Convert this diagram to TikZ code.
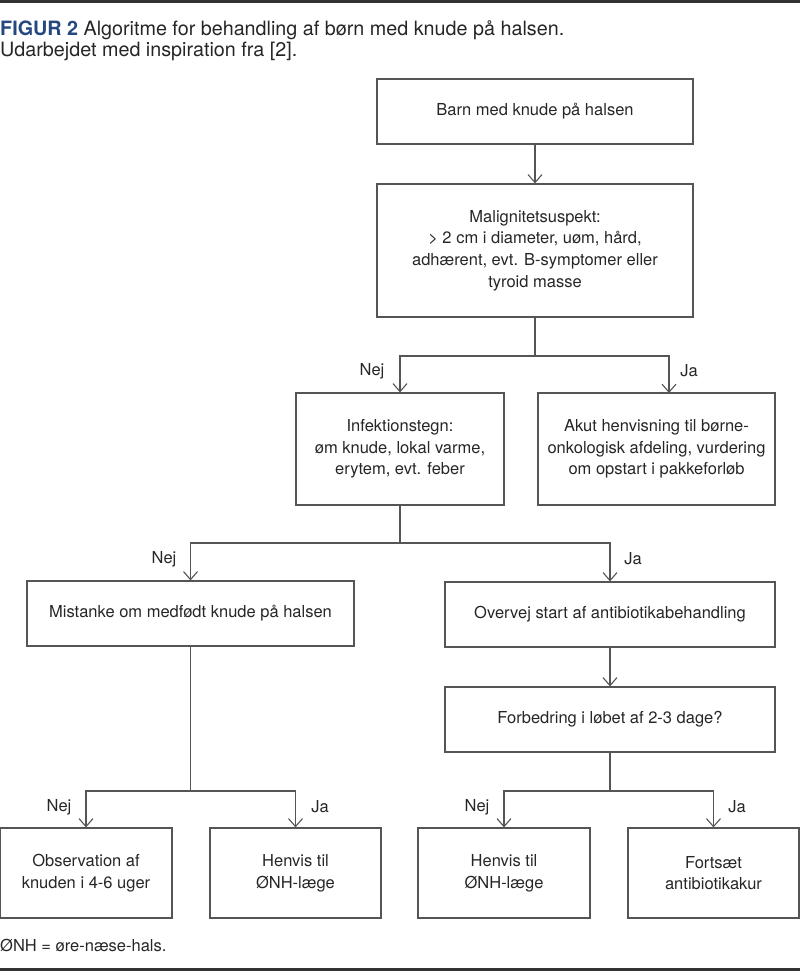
\documentclass[tikz,border=0pt]{standalone}
\usepackage{fontspec}
\setmainfont{TeX Gyre Heros}
\usetikzlibrary{arrows.meta}
\definecolor{figblue}{RGB}{38,72,128}
\definecolor{txt}{RGB}{38,38,38}
\definecolor{ln}{RGB}{85,85,85}
\definecolor{rulec}{RGB}{50,50,50}
\begin{document}
\begin{tikzpicture}[x=1pt,y=-1pt,
  box/.style={draw=ln, line width=1.2pt, rectangle, inner sep=0pt, align=center,
    text=txt, font=\fontsize{16.5}{21.7}\selectfont},
  conn/.style={draw=ln, line width=1.1pt},
  arr/.style={conn, -{Straight Barb[length=8pt,width=14pt,line width=1.1pt]}},
  lbl/.style={text=txt, font=\fontsize{16.5}{20}\selectfont, inner sep=0pt}]
\useasboundingbox (0,0) rectangle (800,971);
% rules
\fill[rulec] (0,0) rectangle (800,3);
\fill[rulec] (0,968) rectangle (800,971);
% caption
\node[anchor=base west, inner sep=0pt, text=txt, font=\fontsize{19.75}{21}\selectfont] (cap1) at (0,36)
  {\textcolor{figblue}{\textbf{FIGUR 2}} Algoritme for behandling af børn med knude på halsen.};
\node[anchor=base west, inner sep=0pt, text=txt, font=\fontsize{19.75}{21}\selectfont] (cap2) at (0,57)
  {Udarbejdet med inspiration fra [2].};
% boxes
\node[box, minimum width=316pt, minimum height=65pt] (b1) at (535,111.5) {Barn med knude på halsen};
\node[box, minimum width=316pt, minimum height=133pt] (b2) at (535,250.5)
  {Malignitetsuspekt:\\ \textgreater{} 2 cm i diameter, uøm, hård,\\ adhærent, evt. B-symptomer eller\\ tyroid masse};
\node[box, minimum width=208pt, minimum height=112pt] (b3) at (400,449)
  {Infektionstegn:\\ øm knude, lokal varme,\\ erytem, evt. feber};
\node[box, minimum width=237pt, minimum height=112pt] (b4) at (656.5,449)
  {Akut henvisning til børne-\\ onkologisk afdeling, vurdering\\ om opstart i pakkeforløb};
\node[box, minimum width=327pt, minimum height=65pt] (b5) at (190.5,613.5) {Mistanke om medfødt knude på halsen};
\node[box, minimum width=330pt, minimum height=65pt] (b6) at (610,614.5) {Overvej start af antibiotikabehandling};
\node[box, minimum width=330pt, minimum height=65pt] (b7) at (610,719.5) {Forbedring i løbet af 2-3 dage?};
\node[box, minimum width=172pt, minimum height=90pt] (b8) at (86,873) {Observation af\\ knuden i 4-6 uger};
\node[box, minimum width=171pt, minimum height=90pt] (b9) at (295.5,873) {Henvis til\\ ØNH-læge};
\node[box, minimum width=172pt, minimum height=90pt] (b10) at (504,873) {Henvis til\\ ØNH-læge};
\node[box, minimum width=171pt, minimum height=90pt] (b11) at (713.5,873) {Fortsæt\\ antibiotikakur};
% footnote
\node[anchor=base west, inner sep=0pt, text=txt, font=\fontsize{16.5}{20}\selectfont] (fn) at (0,951) {ØNH = øre-næse-hals.};
% connectors
\draw[arr] (b1.south) -- (b2.north);
\coordinate (s1) at (535,356);
\coordinate (j1) at (669,393);
\draw[conn] (b2.south) -- (s1);
\draw[arr] (s1) -| (b3.north);
\draw[arr] (s1) -| (j1);
\coordinate (s2) at (400,543);
\draw[conn] (b3.south) -- (s2);
\draw[arr] (s2) -| (b5.north);
\draw[arr] (s2) -| (b6.north);
\draw[arr] (b6.south) -- (b7.north);
\coordinate (s3) at (190.5,791);
\draw[conn] (b5.south) -- (s3);
\draw[arr] (s3) -| (b8.north);
\draw[arr] (s3) -| (b9.north);
\coordinate (s4) at (610,791);
\draw[conn] (b7.south) -- (s4);
\draw[arr] (s4) -| (b10.north);
\draw[arr] (s4) -| (b11.north);
% labels
\node[lbl] (n1) at (372,371) {Nej};
\node[lbl] (y1) at (689,371) {Ja};
\node[lbl] (n2) at (164,559) {Nej};
\node[lbl] (y2) at (633,559) {Ja};
\node[lbl] (n3) at (59,807) {Nej};
\node[lbl] (y3) at (320,807) {Ja};
\node[lbl] (n4) at (477,807) {Nej};
\node[lbl] (y4) at (737,807) {Ja};
\end{tikzpicture}
\end{document}
